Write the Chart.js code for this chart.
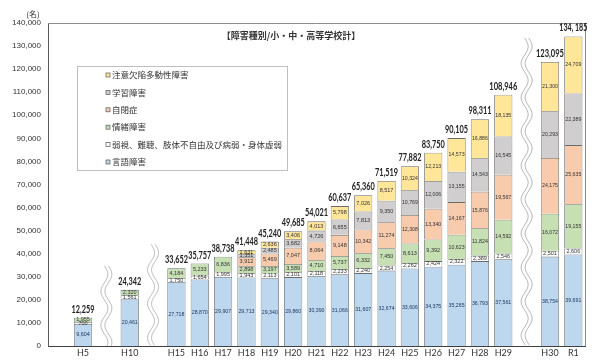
<!DOCTYPE html>
<html>
<head>
<meta charset="utf-8">
<script src="https://cdn.jsdelivr.net/npm/chart.js@4.4.1/dist/chart.umd.min.js"></script>
<style>
  body { margin: 0; background: #fff; }
  #wrap { width: 600px; height: 360px; position: relative; }
</style>
</head>
<body>
<div id="wrap"><canvas id="statChart"></canvas></div>
<script>
// years shown on the x axis; a blank slot is inserted before the ones in gapBefore
const years = ['H5','H10','H15','H16','H17','H18','H19','H20','H21','H22','H23','H24','H25','H26','H27','H28','H29','H30','R1'];
const gapBefore = ['H5','H10','H15','H30'];

const speech   = [9604, 20461, 27718, 28870, 29907, 29713, 29340, 29860, 30390, 31066, 31607, 32674, 33606, 34375, 35265, 36793, 37561, 38754, 39691];
const sensory  = [700, 1561, 1750, 1654, 1995, 1943, 2113, 2101, 2118, 2233, 2240, 2254, 2262, 2424, 2322, 2389, 2546, 2501, 2606];
const emotional = [1955, 2320, 4184, 5233, 6836, 2898, 3197, 3589, 4710, 5737, 6332, 7450, 8613, 9392, 10623, 11824, 14592, 16072, 19155];
const autism   = [null, null, null, null, null, 3912, 5469, 7047, 8064, 9148, 10342, 11274, 12308, 13340, 14167, 15876, 19567, 24175, 25635];
const ld       = [null, null, null, null, null, 1351, 2485, 3682, 4726, 6655, 7813, 9350, 10769, 12006, 13155, 14543, 16545, 20293, 22389];
const adhd     = [null, null, null, null, null, 1631, 2636, 3406, 4013, 5798, 7026, 8517, 10324, 12213, 14573, 16886, 18135, 21300, 24709];
const totals   = ['12,259','24,342','33,652','35,757','38,738','41,448','45,240','49,685','54,021','60,637','65,360','71,519','77,882','83,750','90,105','98,311','108,946','123,095','134, 185'];

const seriesNames = ['言語障害', '弱視、難聴、肢体不自由及び病弱・身体虚弱', '情緒障害', '自閉症', '学習障害', '注意欠陥多動性障害'];
const seriesData = [speech, sensory, emotional, autism, ld, adhd];
const seriesColors = ['#bdd7ee', '#ffffff', '#c6e0b4', '#f8cbad', '#d0cece', '#ffe699'];
const yTicks = [0, 10000, 20000, 30000, 40000, 50000, 60000, 70000, 80000, 90000, 100000, 110000, 120000, 130000, 140000];

// build the slot list (blank slots become the broken-axis gaps)
const labels = [];
const slotYear = [];
years.forEach((yr, i) => {
  if (gapBefore.includes(yr)) { labels.push(''); slotYear.push(-1); }
  labels.push(yr); slotYear.push(i);
});
const spread = arr => slotYear.map(i => i < 0 ? null : arr[i]);
const sumAt = i => seriesData.reduce((s, a) => s + (a[i] || 0), 0);

const fmt = v => v.toLocaleString('en-US');
const jp = '"Noto Sans CJK JP", sans-serif';

function wave(ctx, cx, y0, y1) {
  [-2, 2].forEach(off => {
    ctx.beginPath();
    for (let yy = y0; yy <= y1; yy += 1) {
      const xx = cx + off + 3.5 * Math.sin((yy - y0) / 34 * Math.PI * 2);
      if (yy === y0) ctx.moveTo(xx, yy); else ctx.lineTo(xx, yy);
    }
    ctx.stroke();
  });
}

const decor = {
  id: 'decor',
  afterDatasetsDraw(chart) {
    const ctx = chart.ctx;
    const { left, right, top, bottom } = chart.chartArea;
    const x = chart.scales.x, y = chart.scales.y;
    ctx.save();

    // frame top / right
    ctx.strokeStyle = '#8c8c8c';
    ctx.lineWidth = 1;
    ctx.beginPath();
    ctx.moveTo(left, top + 0.5); ctx.lineTo(right + 0.5, top + 0.5); ctx.lineTo(right + 0.5, bottom);
    ctx.stroke();

    // unit + title
    ctx.fillStyle = '#333';
    ctx.font = '8px ' + jp;
    ctx.textAlign = 'center';
    ctx.textBaseline = 'middle';
    ctx.fillText('(名)', 33, 14);
    ctx.font = 'bold 9px ' + jp;
    ctx.fillText('【障害種別/小・中・高等学校計】', 291, 36);

    // segment values
    ctx.font = '5.5px "Liberation Sans", sans-serif';
    chart.data.datasets.forEach((ds, di) => {
      ctx.fillStyle = di === 0 ? '#1f3864' : '#333';
      chart.getDatasetMeta(di).data.forEach((bar, i) => {
        const v = ds.data[i];
        if (v == null) return;
        ctx.fillText(fmt(v), bar.x, (bar.y + bar.base) / 2, 16);
      });
    });

    // totals
    ctx.fillStyle = '#222';
    ctx.font = 'bold 11px Lato, sans-serif';
    ctx.textBaseline = 'bottom';
    slotYear.forEach((yi, s) => {
      if (yi < 0) return;
      const w = totals[yi].length > 6 ? 28 : 23;
      ctx.fillText(totals[yi], x.getPixelForValue(s), y.getPixelForValue(sumAt(yi)) - 3, w);
    });

    // broken-axis waves
    ctx.strokeStyle = '#a6a6a6';
    ctx.lineWidth = 0.8;
    slotYear.forEach((yi, s) => {
      if (yi >= 0 || s === 0) return;
      const next = slotYear[s + 1];
      wave(ctx, x.getPixelForValue(s), y.getPixelForValue(sumAt(next)) - 24, bottom);
    });

    // legend box
    const lx = left + 29, ly = top + 43, lw = 210, lh = 104;
    ctx.fillStyle = '#fff';
    ctx.fillRect(lx, ly, lw, lh);
    ctx.strokeStyle = '#bfbfbf';
    ctx.lineWidth = 1;
    ctx.strokeRect(lx + 0.5, ly + 0.5, lw, lh);
    ctx.font = '8.5px ' + jp;
    ctx.textAlign = 'left';
    ctx.textBaseline = 'middle';
    for (let k = 0; k < seriesNames.length; k++) {
      const di = seriesNames.length - 1 - k;
      const ry = ly + 9 + k * 17.4;
      ctx.fillStyle = seriesColors[di];
      ctx.fillRect(lx + 29, ry - 2, 4, 4);
      ctx.strokeStyle = '#595959';
      ctx.lineWidth = 0.7;
      ctx.strokeRect(lx + 29, ry - 2, 4, 4);
      ctx.fillStyle = '#333';
      ctx.fillText(seriesNames[di], lx + 35, ry);
    }
    ctx.restore();
  }
};

new Chart(document.getElementById('statChart'), {
  type: 'bar',
  data: {
    labels,
    datasets: seriesNames.map((name, k) => ({
      label: name,
      data: spread(seriesData[k]),
      backgroundColor: seriesColors[k],
      borderColor: '#6b6b6b',
      borderWidth: 0.8,
      barPercentage: 1,
      categoryPercentage: 0.78
    }))
  },
  options: {
    responsive: true,
    maintainAspectRatio: false,
    animation: false,
    layout: { padding: { top: 23, right: 15, left: 0, bottom: 0 } },
    plugins: { legend: { display: false }, tooltip: { enabled: false } },
    scales: {
      x: {
        stacked: true,
        grid: { display: false, drawTicks: false },
        border: { color: '#404040', width: 1 },
        ticks: { autoSkip: false, maxRotation: 0, padding: 2, color: '#333', font: { size: 9, family: 'Lato, sans-serif' } },
        afterFit: s => { s.height = 14; }
      },
      y: {
        stacked: true,
        min: 0,
        max: 140000,
        afterBuildTicks: s => { s.ticks = yTicks.map(v => ({ value: v })); },
        grid: { display: false, drawTicks: false },
        border: { color: '#595959', width: 1 },
        ticks: { padding: 7, color: '#333', font: { size: 8, family: '"Liberation Sans", sans-serif' }, callback: v => fmt(v) },
        afterFit: s => { s.width = 48; }
      }
    }
  },
  plugins: [decor]
});
</script>
</body>
</html>
